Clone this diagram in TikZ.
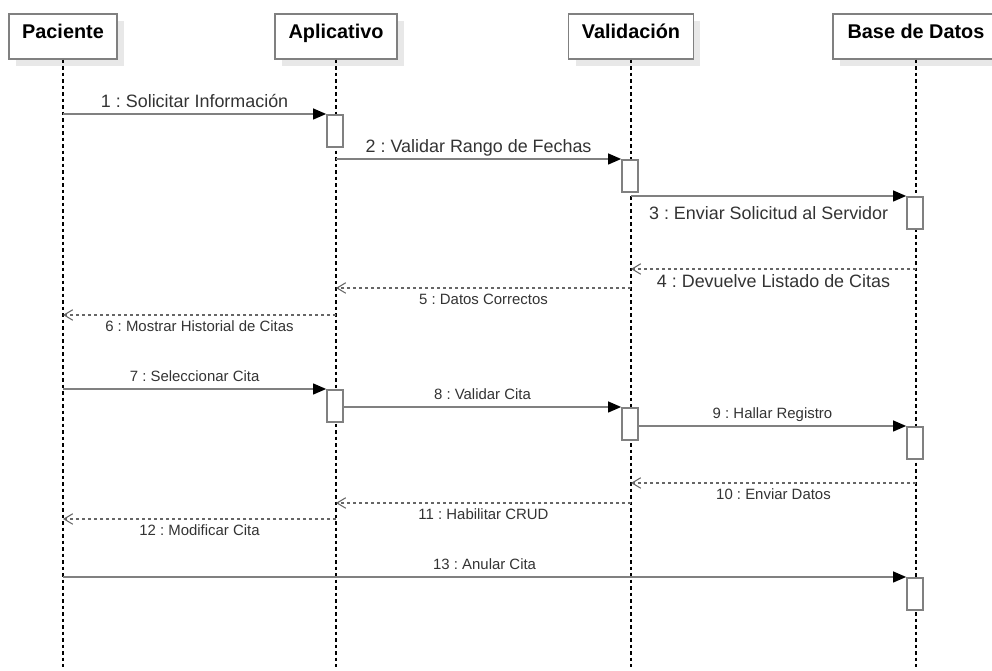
\documentclass[tikz,border=0pt]{standalone}
\usepackage{fontspec}
\setmainfont{Liberation Sans}
\usetikzlibrary{arrows.meta, positioning, shadows}
\definecolor{linegray}{HTML}{808080}
\definecolor{shadowgray}{HTML}{E8E8E8}
\definecolor{textgray}{HTML}{333333}
\frenchspacing

\begin{document}
\begin{tikzpicture}[x=0.02cm, y=-0.02cm,
  headbox/.style={draw=linegray, line width=0.9pt, fill=white, anchor=north,
    minimum height=0.9cm, inner sep=0pt, text height=8pt, text depth=6pt,
    font=\fontsize{11.3pt}{13pt}\selectfont\bfseries,
    drop shadow={shadow xshift=0.14cm, shadow yshift=-0.14cm, fill=shadowgray, opacity=1}},
  actbox/.style={draw=linegray, line width=0.9pt, fill=white, anchor=north,
    minimum width=0.32cm, minimum height=0.64cm, inner sep=0pt},
  lifeline/.style={black, line width=0.6pt, dash pattern=on 2pt off 1.7pt},
  call/.style={linegray, line width=1pt, -{Triangle[length=7.5pt, width=6.2pt, black]}},
  reply/.style={black!60, line width=0.7pt, dash pattern=on 1.7pt off 1.7pt,
    -{Straight Barb[length=5pt, width=6pt, line width=0.6pt]}},
  biglbl/.style={text=textgray, font=\fontsize{10.2pt}{12pt}\selectfont,
    text height=7.7pt, text depth=2pt},
  smalllbl/.style={text=textgray, font=\fontsize{8.5pt}{10pt}\selectfont,
    text height=6.4pt, text depth=1.7pt}
]
  \useasboundingbox (0,0) rectangle (992,671);

  % participants
  \node[headbox, minimum width=2.16cm] (pac) at (63,13) {Paciente};
  \node[headbox, minimum width=2.44cm] (apl) at (336,13) {Aplicativo};
  \node[headbox, minimum width=2.5cm] (val) at (631,13) {Validación};
  \node[headbox, minimum width=3.32cm] (bd) at (916,13) {Base de Datos};

  \coordinate (bottom) at (0,667);
  \foreach \p in {pac, apl, val, bd}
    \draw[lifeline] (\p.south) -- (\p.south |- bottom);

  % activations
  \node[actbox] (apl1) at (335,114) {};
  \node[actbox] (val1) at (630,159) {};
  \node[actbox] (bd1) at (915,196) {};
  \node[actbox] (apl2) at (335,389) {};
  \node[actbox] (val2) at (630,407) {};
  \node[actbox] (bd2) at (915,426) {};
  \node[actbox] (bd3) at (915,577) {};

  % return levels
  \coordinate (r4) at (0,269);
  \coordinate (r5) at (0,288);
  \coordinate (r6) at (0,315);
  \coordinate (r10) at (0,483);
  \coordinate (r11) at (0,503);
  \coordinate (r12) at (0,519);

  % messages
  \draw[call] (pac |- apl1.north) -- (apl1.north west)
    node[midway, above, biglbl, inner sep=1.2pt] {1 : Solicitar Información};
  \draw[call] (apl |- val1.north) -- (val1.north west)
    node[midway, above, biglbl, inner sep=1.2pt] {2 : Validar Rango de Fechas};
  \draw[call] (val |- bd1.north) -- (bd1.north west)
    node[midway, below, biglbl, inner sep=5pt] {3 : Enviar Solicitud al Servidor};
  \draw[reply] (bd |- r4) -- (val |- r4)
    node[midway, below, biglbl, inner sep=2.2pt] {4 : Devuelve Listado de Citas};
  \draw[reply] (val |- r5) -- (apl |- r5)
    node[midway, below, smalllbl, inner sep=2.9pt] {5 : Datos Correctos};
  \draw[reply] (apl |- r6) -- (pac |- r6)
    node[midway, below, smalllbl, inner sep=2.9pt] {6 : Mostrar Historial de Citas};

  \draw[call] (pac |- apl2.north) -- (apl2.north west)
    node[midway, above, smalllbl, inner sep=2.3pt] {7 : Seleccionar Cita};
  \draw[call] (apl2.east |- val2.north) -- (val2.north west)
    node[midway, above, smalllbl, inner sep=2.3pt] {8 : Validar Cita};
  \draw[call] (val2.east |- bd2.north) -- (bd2.north west)
    node[midway, above, smalllbl, inner sep=2.3pt] {9 : Hallar Registro};
  \draw[reply] (bd |- r10) -- (val |- r10)
    node[midway, below, smalllbl, inner sep=2.9pt] {10 : Enviar Datos};
  \draw[reply] (val |- r11) -- (apl |- r11)
    node[midway, below, smalllbl, inner sep=2.9pt] {11 : Habilitar CRUD};
  \draw[reply] (apl |- r12) -- (pac |- r12)
    node[midway, below, smalllbl, inner sep=2.9pt] {12 : Modificar Cita};
  \draw[call] (pac |- bd3.north) -- (bd3.north west)
    node[midway, above, smalllbl, inner sep=2.3pt] {13 : Anular Cita};
\end{tikzpicture}
\end{document}
